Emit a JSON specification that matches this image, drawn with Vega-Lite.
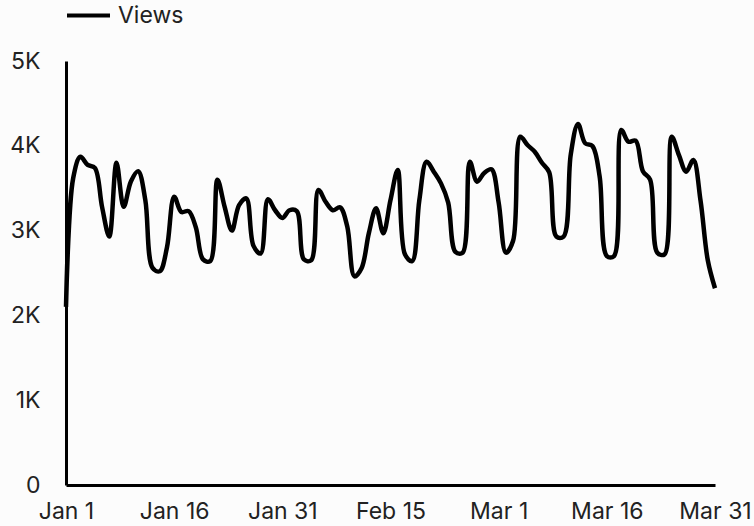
{
  "$schema": "https://vega.github.io/schema/vega-lite/v6.json",
  "width": 649,
  "height": 424,
  "autosize": {"type": "none"},
  "padding": {"left": 66, "top": 61, "right": 39, "bottom": 41},
  "background": "#fcfcfc",
  "config": {"view": {"stroke": null}, "font": "Inter"},
  "data": {"values": [
    {"date": "2024-01-01", "views": 2100},
    {"date": "2024-01-02", "views": 3620},
    {"date": "2024-01-03", "views": 3870},
    {"date": "2024-01-04", "views": 3775},
    {"date": "2024-01-05", "views": 3740},
    {"date": "2024-01-06", "views": 3280},
    {"date": "2024-01-07", "views": 2930},
    {"date": "2024-01-08", "views": 3800},
    {"date": "2024-01-09", "views": 3280},
    {"date": "2024-01-10", "views": 3580},
    {"date": "2024-01-11", "views": 3700},
    {"date": "2024-01-12", "views": 3360},
    {"date": "2024-01-13", "views": 2560},
    {"date": "2024-01-14", "views": 2520},
    {"date": "2024-01-15", "views": 2800},
    {"date": "2024-01-16", "views": 3400},
    {"date": "2024-01-17", "views": 3220},
    {"date": "2024-01-18", "views": 3230},
    {"date": "2024-01-19", "views": 3040},
    {"date": "2024-01-20", "views": 2660},
    {"date": "2024-01-21", "views": 2640},
    {"date": "2024-01-22", "views": 3600},
    {"date": "2024-01-23", "views": 3280},
    {"date": "2024-01-24", "views": 3000},
    {"date": "2024-01-25", "views": 3300},
    {"date": "2024-01-26", "views": 3380},
    {"date": "2024-01-27", "views": 2820},
    {"date": "2024-01-28", "views": 2730},
    {"date": "2024-01-29", "views": 3370},
    {"date": "2024-01-30", "views": 3240},
    {"date": "2024-01-31", "views": 3150},
    {"date": "2024-02-01", "views": 3240},
    {"date": "2024-02-02", "views": 3230},
    {"date": "2024-02-03", "views": 2660},
    {"date": "2024-02-04", "views": 2650},
    {"date": "2024-02-05", "views": 3480},
    {"date": "2024-02-06", "views": 3340},
    {"date": "2024-02-07", "views": 3240},
    {"date": "2024-02-08", "views": 3275},
    {"date": "2024-02-09", "views": 3050},
    {"date": "2024-02-10", "views": 2460},
    {"date": "2024-02-11", "views": 2560},
    {"date": "2024-02-12", "views": 2970},
    {"date": "2024-02-13", "views": 3263},
    {"date": "2024-02-14", "views": 2968},
    {"date": "2024-02-15", "views": 3360},
    {"date": "2024-02-16", "views": 3715},
    {"date": "2024-02-17", "views": 2720},
    {"date": "2024-02-18", "views": 2640},
    {"date": "2024-02-19", "views": 3360},
    {"date": "2024-02-20", "views": 3813},
    {"date": "2024-02-21", "views": 3695},
    {"date": "2024-02-22", "views": 3557},
    {"date": "2024-02-23", "views": 3330},
    {"date": "2024-02-24", "views": 2750},
    {"date": "2024-02-25", "views": 2740},
    {"date": "2024-02-26", "views": 3813},
    {"date": "2024-02-27", "views": 3577},
    {"date": "2024-02-28", "views": 3680},
    {"date": "2024-02-29", "views": 3723},
    {"date": "2024-03-01", "views": 3330},
    {"date": "2024-03-02", "views": 2740},
    {"date": "2024-03-03", "views": 2880},
    {"date": "2024-03-04", "views": 4107},
    {"date": "2024-03-05", "views": 4009},
    {"date": "2024-03-06", "views": 3930},
    {"date": "2024-03-07", "views": 3800},
    {"date": "2024-03-08", "views": 3690},
    {"date": "2024-03-09", "views": 2930},
    {"date": "2024-03-10", "views": 2930},
    {"date": "2024-03-11", "views": 3900},
    {"date": "2024-03-12", "views": 4257},
    {"date": "2024-03-13", "views": 4030},
    {"date": "2024-03-14", "views": 3997},
    {"date": "2024-03-15", "views": 3640},
    {"date": "2024-03-16", "views": 2700},
    {"date": "2024-03-17", "views": 2700},
    {"date": "2024-03-18", "views": 4186},
    {"date": "2024-03-19", "views": 4048},
    {"date": "2024-03-20", "views": 4060},
    {"date": "2024-03-21", "views": 3700},
    {"date": "2024-03-22", "views": 3600},
    {"date": "2024-03-23", "views": 2740},
    {"date": "2024-03-24", "views": 2720},
    {"date": "2024-03-25", "views": 4107},
    {"date": "2024-03-26", "views": 3890},
    {"date": "2024-03-27", "views": 3695},
    {"date": "2024-03-28", "views": 3833},
    {"date": "2024-03-29", "views": 3350},
    {"date": "2024-03-30", "views": 2650},
    {"date": "2024-03-31", "views": 2320}
  ]},
  "mark": {"type": "line", "interpolate": "catmull-rom", "strokeWidth": 4.5, "strokeJoin": "round", "strokeCap": "butt"},
  "encoding": {
    "x": {
      "field": "date",
      "type": "temporal",
      "scale": {"type": "utc"},
      "axis": {
        "title": null,
        "values": [
          {"year": 2024, "month": 1, "date": 1, "utc": true},
          {"year": 2024, "month": 1, "date": 16, "utc": true},
          {"year": 2024, "month": 1, "date": 31, "utc": true},
          {"year": 2024, "month": 2, "date": 15, "utc": true},
          {"year": 2024, "month": 3, "date": 1, "utc": true},
          {"year": 2024, "month": 3, "date": 16, "utc": true},
          {"year": 2024, "month": 3, "date": 31, "utc": true}
        ],
        "format": "%b %-d",
        "ticks": false,
        "grid": false,
        "domainColor": "#000",
        "domainWidth": 3,
        "labelFontSize": 23,
        "labelColor": "#222",
        "labelPadding": 15,
        "labelFlush": false,
        "labelOverlap": false,
        "labelBound": false
      }
    },
    "y": {
      "field": "views",
      "type": "quantitative",
      "scale": {"domain": [0, 5000], "nice": false},
      "axis": {
        "title": null,
        "values": [0, 1000, 2000, 3000, 4000, 5000],
        "labelExpr": "datum.value == 0 ? '0' : (datum.value / 1000) + 'K'",
        "ticks": false,
        "grid": false,
        "domainColor": "#000",
        "domainWidth": 3,
        "labelFontSize": 23,
        "labelColor": "#222",
        "labelPadding": 26,
        "labelOverlap": false
      }
    },
    "color": {
      "datum": "Views",
      "type": "nominal",
      "scale": {"range": ["#000"]},
      "legend": {
        "title": null,
        "orient": "none",
        "legendX": -1,
        "legendY": -69,
        "symbolType": "stroke",
        "symbolSize": 1849,
        "symbolStrokeWidth": 4,
        "labelFontSize": 23,
        "labelColor": "#222",
        "labelOffset": 6
      }
    }
  }
}
